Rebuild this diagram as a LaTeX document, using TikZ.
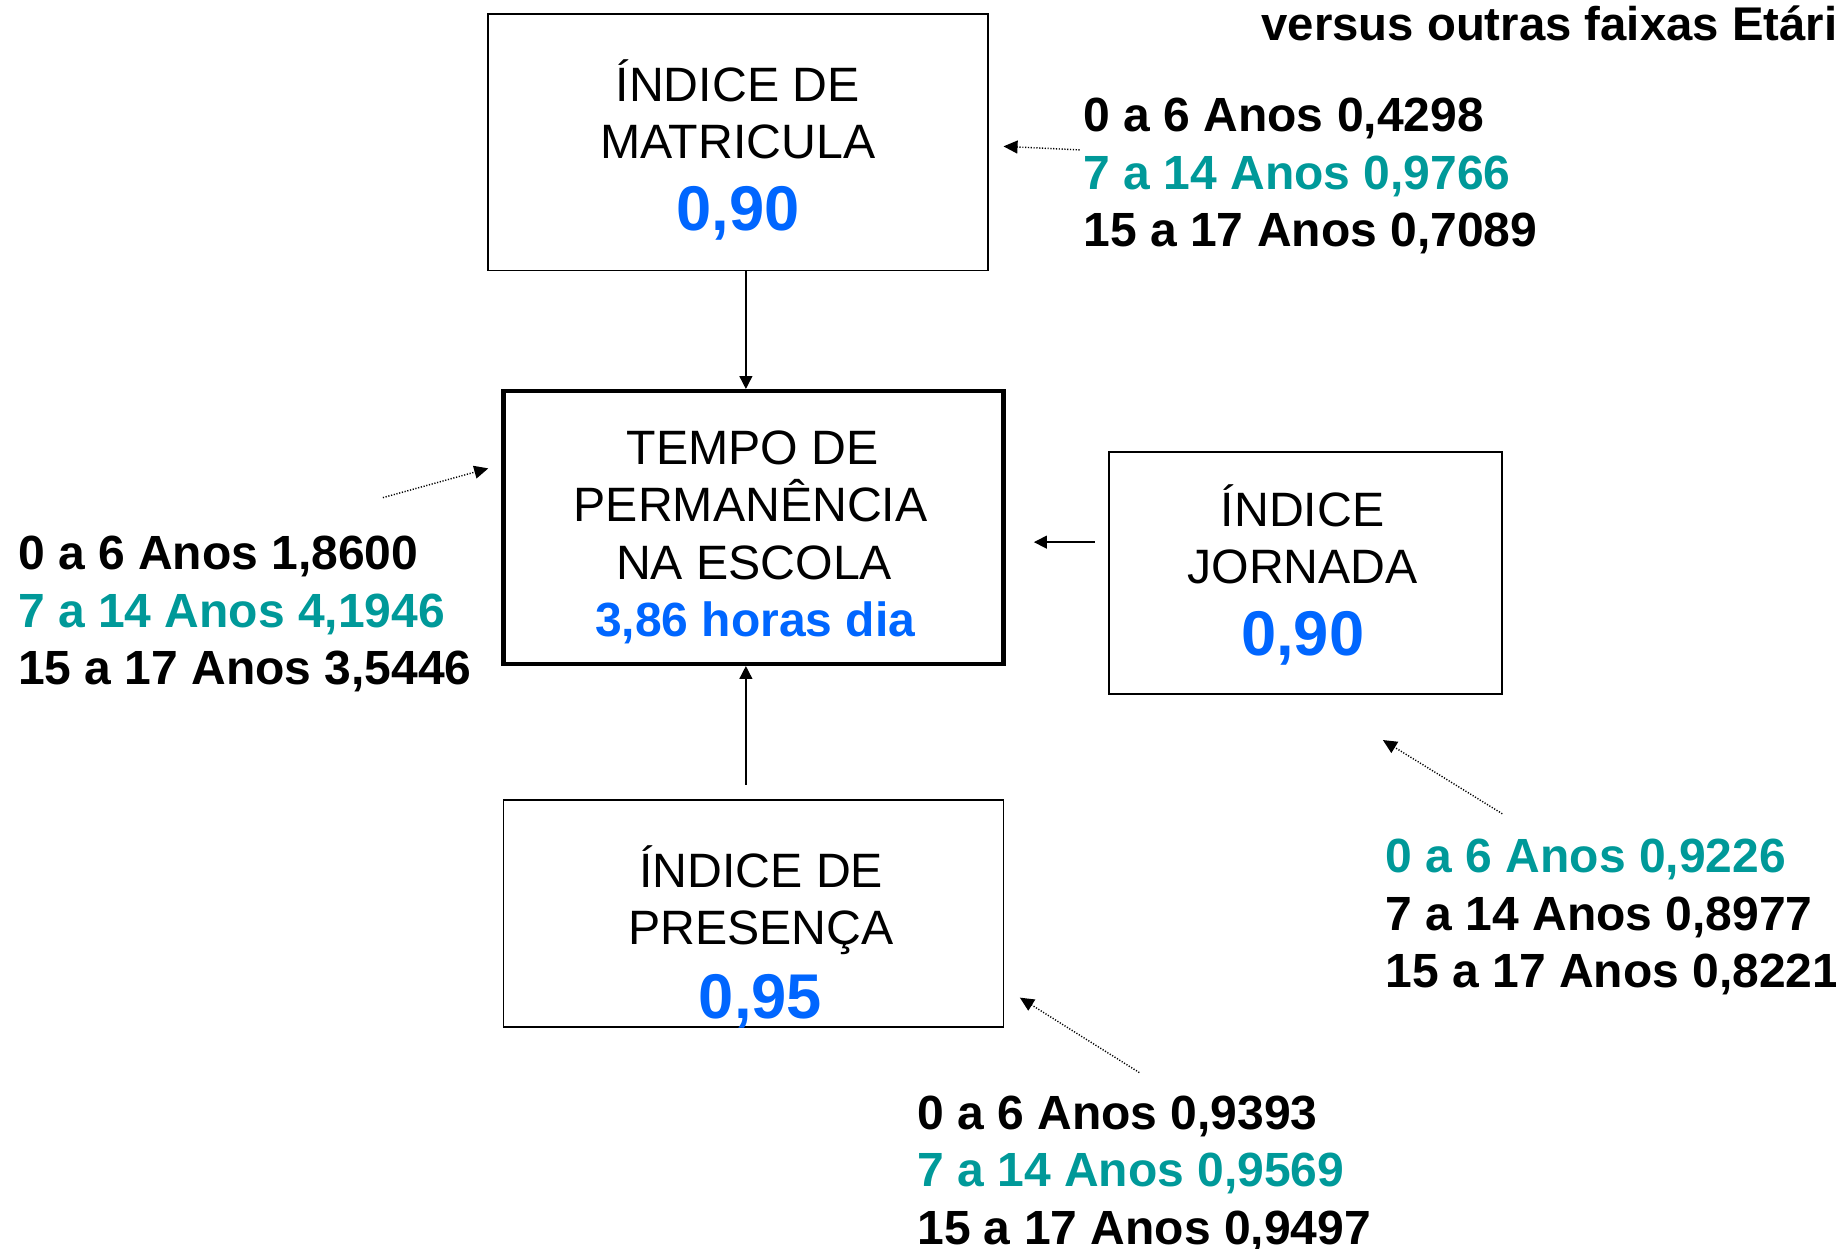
\documentclass[tikz,border=0pt]{standalone}
\usepackage{fontspec}
\setmainfont{Liberation Sans}
\usetikzlibrary{arrows.meta}
\definecolor{tealc}{RGB}{0,153,153}
\definecolor{bluec}{RGB}{0,102,255}
\begin{document}
\begin{tikzpicture}[x=0.5pt,y=-0.5pt,
  lbl/.style={anchor=base west,inner sep=0pt,font=\bfseries\fontsize{20.5}{24.5}\selectfont},
  titletxt/.style={anchor=base west,inner sep=0pt,font=\bfseries\fontsize{20.2}{24.5}\selectfont},
  boxtxt/.style={anchor=base,inner sep=0pt,font=\fontsize{20.6}{24.5}\selectfont},
  bluetxt/.style={anchor=base,inner sep=0pt,text=bluec,font=\bfseries\fontsize{20.5}{24.5}\selectfont},
  bignum/.style={anchor=base,inner sep=0pt,text=bluec,font=\bfseries\fontsize{27}{32}\selectfont},
  thinbox/.style={draw,line width=0.8pt,inner sep=0pt,minimum width=213.5pt},
  thickbox/.style={draw,line width=1.8pt,inner sep=0pt,minimum width=213.5pt},
  solidarrow/.style={line width=0.6pt,-{Triangle[length=5.5pt,width=5.5pt]}},
  dotarrow/.style={line width=0.6pt,dash pattern=on 0.5pt off 0.7pt,-{Triangle[length=6pt,width=5.5pt]}}
]
\useasboundingbox (0,0) rectangle (1568,1066);

% title
\node[titletxt] (title) at (1077,34.5) {versus outras faixas Etári};

% boxes
\node[thinbox,minimum height=109.5pt] (box1) at (630.5,121.5) {};
\node[thickbox,minimum height=116.5pt] (box2) at (643.5,450.5) {};
\node[thinbox,minimum height=97pt] (box3) at (643.5,780) {};
\node[thinbox,minimum width=168pt,minimum height=103.5pt] (box4) at (1115,489.5) {};

% box 1 text
\node[boxtxt] (b1a) at (630,86.5) {ÍNDICE DE};
\node[boxtxt] (b1b) at (630,135.5) {MATRICULA};
\node[bignum] (b1c) at (630.5,197) {0,90};

% box 2 text
\node[boxtxt] (b2a) at (643,396.5) {TEMPO DE};
\node[boxtxt] (b2b) at (641,445.5) {PERMANÊNCIA};
\node[boxtxt] (b2c) at (644,494.5) {NA ESCOLA};
\node[bluetxt] (b2d) at (645,543.5) {3,86 horas dia};

% box 3 text
\node[boxtxt] (b3a) at (650,758) {ÍNDICE DE};
\node[boxtxt] (b3b) at (650,807) {PRESENÇA};
\node[bignum] (b3c) at (649.5,870) {0,95};

% box 4 text
\node[boxtxt] (b4a) at (1112.5,449.5) {ÍNDICE};
\node[boxtxt] (b4b) at (1112.5,498.5) {JORNADA};
\node[bignum] (b4c) at (1112.5,560) {0,90};

% right top labels
\node[lbl] (rt1) at (925,112.5) {0 a 6 Anos 0,4298};
\node[lbl,text=tealc] (rt2) at (925,161.5) {7 a 14 Anos 0,9766};
\node[lbl] (rt3) at (925,210.5) {15 a 17 Anos 0,7089};

% left labels
\node[lbl] (l1) at (15,486.5) {0 a 6 Anos 1,8600};
\node[lbl,text=tealc] (l2) at (15,535.5) {7 a 14 Anos 4,1946};
\node[lbl] (l3) at (15,584.5) {15 a 17 Anos 3,5446};

% right bottom labels
\node[lbl,text=tealc] (rb1) at (1183,745.5) {0 a 6 Anos 0,9226};
\node[lbl] (rb2) at (1183,794.5) {7 a 14 Anos 0,8977};
\node[lbl] (rb3) at (1183,843.5) {15 a 17 Anos 0,8221};

% bottom labels
\node[lbl] (bt1) at (783,964.5) {0 a 6 Anos 0,9393};
\node[lbl,text=tealc] (bt2) at (783,1013.5) {7 a 14 Anos 0,9569};
\node[lbl] (bt3) at (783,1062.5) {15 a 17 Anos 0,9497};

% connector coordinates
\coordinate (mx) at (637,0);
\coordinate (up0) at (637,670);
\coordinate (h0) at (935,463);
\coordinate (h1) at (883,463);
\coordinate (d1s) at (922,128);
\coordinate (d1e) at (857,125);
\coordinate (d2s) at (327,425);
\coordinate (d2e) at (417,400);
\coordinate (d3s) at (1283,695);
\coordinate (d3e) at (1181,632);
\coordinate (d4s) at (973,916);
\coordinate (d4e) at (871,852);

% connectors
\draw[solidarrow] (box1.south -| mx) -- (box2.north -| mx);
\draw[solidarrow] (up0) -- (box2.south -| mx);
\draw[solidarrow] (h0) -- (h1);
\draw[dotarrow] (d1s) -- (d1e);
\draw[dotarrow] (d2s) -- (d2e);
\draw[dotarrow] (d3s) -- (d3e);
\draw[dotarrow] (d4s) -- (d4e);
\end{tikzpicture}
\end{document}
